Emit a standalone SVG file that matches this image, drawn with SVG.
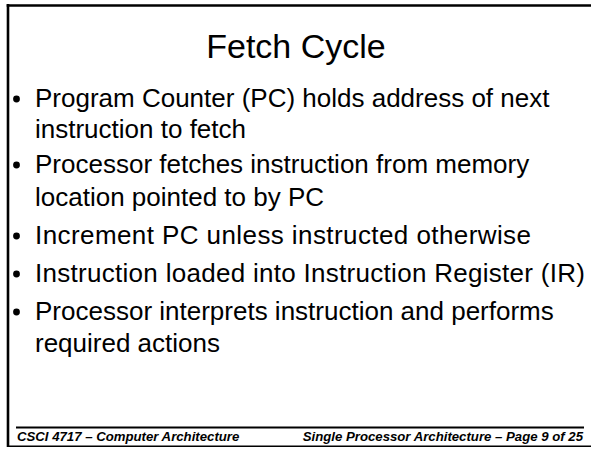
<svg xmlns="http://www.w3.org/2000/svg" width="591" height="449" viewBox="0 0 591 449">
<style>
.t{font-family:"Liberation Sans",Arial,sans-serif;fill:#000}
.title{font-size:34px;text-anchor:middle}
.body{font-size:26px}
.foot{font-size:13.2px;font-weight:bold;font-style:italic}
</style>
<rect width="591" height="449" fill="#fff"/>
<g id="frame" stroke="#000" fill="none">
<line x1="8" y1="4" x2="8" y2="447" stroke-width="2.6"/>
<line x1="6.7" y1="5.5" x2="591" y2="5.5" stroke-width="2.6"/>
<line x1="7" y1="446.3" x2="591" y2="446.3" stroke-width="1.4"/>
<line x1="16" y1="427.5" x2="584" y2="427.5" stroke-width="2"/>
</g>
<g id="title"><text class="t title" x="296" y="58">Fetch Cycle</text></g>
<g id="bullets">
<g fill="#000">
<circle cx="16.5" cy="99" r="3.4"/>
<circle cx="16.5" cy="165" r="3.4"/>
<circle cx="16.5" cy="236" r="3.4"/>
<circle cx="16.5" cy="274" r="3.4"/>
<circle cx="16.5" cy="312" r="3.4"/>
</g>
<text class="t body" x="35" y="107">Program Counter (PC) holds address of next</text>
<text class="t body" x="35" y="138">instruction to fetch</text>
<text class="t body" x="35" y="173">Processor fetches instruction from memory</text>
<text class="t body" x="35" y="206">location pointed to by PC</text>
<text class="t body" x="35" y="244" textLength="496">Increment PC unless instructed otherwise</text>
<text class="t body" x="35" y="282" textLength="550">Instruction loaded into Instruction Register (IR)</text>
<text class="t body" x="35" y="320">Processor interprets instruction and performs</text>
<text class="t body" x="35" y="352">required actions</text>
</g>
<g id="footer">
<text class="t foot" x="17" y="441">CSCI 4717 – Computer Architecture</text>
<text class="t foot" x="583" y="441" text-anchor="end">Single Processor Architecture – Page 9 of 25</text>
</g>
</svg>
